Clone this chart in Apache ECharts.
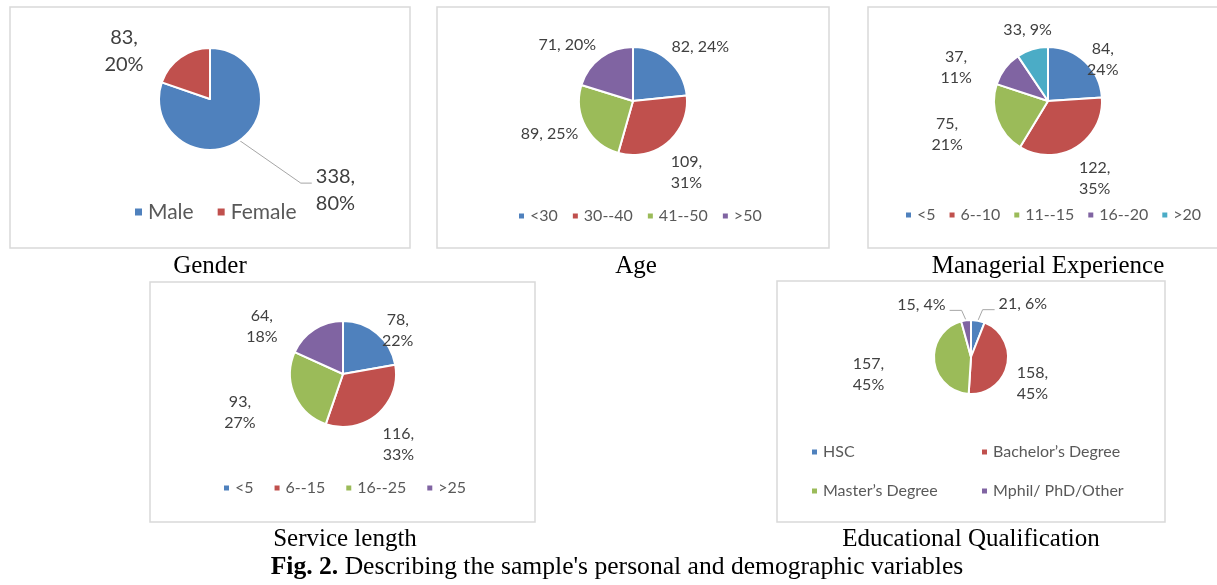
<!DOCTYPE html>
<html><head><meta charset="utf-8">
<script src="https://cdn.jsdelivr.net/npm/echarts@6/dist/echarts.min.js"></script>
<style>html,body{margin:0;padding:0;background:#fff}#c{width:1217px;height:585px}</style>
</head><body><div id="c"></div>
<script>
// ---- data ----
const palette = ['#4F81BD', '#C0504D', '#9BBB59', '#8064A2', '#4BACC6'];

const genderCats = ['Male', 'Female'];
const genderVals = [338, 83];
const genderPct = [80, 20];

const ageCats = ['<30', '30--40', '41--50', '>50'];
const ageVals = [82, 109, 89, 71];
const agePct = [24, 31, 25, 20];

const mgrCats = ['<5', '6--10', '11--15', '16--20', '>20'];
const mgrVals = [84, 122, 75, 37, 33];
const mgrPct = [24, 35, 21, 11, 9];

const svcCats = ['<5', '6--15', '16--25', '>25'];
const svcVals = [78, 116, 93, 64];
const svcPct = [22, 33, 27, 18];

const eduCats = ['HSC', 'Bachelor’s Degree', 'Master’s Degree', 'Mphil/ PhD/Other'];
const eduVals = [21, 158, 157, 15];
const eduPct = [6, 45, 45, 4];

const captionTexts = ['Gender', 'Age', 'Managerial Experience', 'Service length', 'Educational Qualification'];
const figCaptionBold = 'Fig. 2.';
const figCaptionText = ' Describing the sample\'s personal and demographic variables';

// ---- layout / style (not data) ----
const SANS = 'Lato';
const SERIF = '"Liberation Serif", "Times New Roman", serif';
const charts = [
  { cats: genderCats, vals: genderVals, pct: genderPct, center: [210, 99], r: 51, font: 20, lh: 27,
    wrap: [1, 1], gap: 6, nudge: [[73, 17], [-33.5, 26]], leader: [1, 0], lineOff: -6.5, hseg: 11,
    box: [10, 7, 410, 248], caption: [210, 266.5],
    legends: [{ names: genderCats, left: 133, top: 200, gap: 22, font: 21, lh: 24, icon: 9, orient: 'horizontal' }] },
  { cats: ageCats, vals: ageVals, pct: agePct, center: [633, 101], r: 54, font: 16, lh: 21,
    wrap: [0, 1, 0, 0], gap: 6, nudge: [[9, 11], [-2, 5], [-4, -10], [-15, 13]], leader: [0, 0, 0, 0],
    box: [437, 7, 829, 248], caption: [636, 266.5],
    legends: [{ names: ageCats, left: 517, top: 205.5, gap: 13, font: 16, lh: 21, icon: 7, orient: 'horizontal' }] },
  { cats: mgrCats, vals: mgrVals, pct: mgrPct, center: [1048, 101], r: 54, font: 16, lh: 21,
    wrap: [1, 1, 1, 1, 0], gap: 6, nudge: [[-4, 21], [2, 4], [-24, 4.5], [-24, 18], [2, 3]], leader: [0, 0, 0, 0, 0],
    box: [868, 7, 1225, 248], caption: [1048, 266.5],
    legends: [{ names: mgrCats, left: 904, top: 204.5, gap: 12, font: 16, lh: 21, icon: 7, orient: 'horizontal' }] },
  { cats: svcCats, vals: svcVals, pct: svcPct, center: [343, 374], r: 53, font: 16, lh: 21,
    wrap: [1, 1, 1, 1], gap: 6, nudge: [[0, 22], [0, 6], [-28, 6], [-35, 24]], leader: [0, 0, 0, 0],
    box: [150, 282, 535, 522], caption: [345, 539.5],
    legends: [{ names: svcCats, left: 222, top: 477.5, gap: 19, font: 16, lh: 21, icon: 7, orient: 'horizontal' }] },
  { cats: eduCats, vals: eduVals, pct: eduPct, center: [971, 357], r: 37, font: 16, lh: 21,
    wrap: [0, 1, 1, 0], gap: 6, nudge: [[41, 4], [0, 13], [-42, 11], [-42, 4]], leader: [1, 0, 0, 1], lineOff: 5.5, hseg: 12,
    box: [777, 281, 1165, 522], caption: [971, 539.5],
    legends: [
      { names: [eduCats[0], eduCats[2]], left: 810, top: 441.5, gap: 18, font: 16, lh: 21, icon: 7, orient: 'vertical' },
      { names: [eduCats[1], eduCats[3]], left: 980, top: 441.5, gap: 18, font: 16, lh: 21, icon: 7, orient: 'vertical' }
    ] }
];

function makeLabelLayout(cfg) {
  return function (p) {
    const pts = p.labelLinePoints;
    if (!pts || pts.length < 2) return {};
    const i = p.dataIndex;
    const x1 = pts[0][0], y1 = pts[0][1];
    let dx = pts[1][0] - x1, dy = pts[1][1] - y1;
    const len = Math.hypot(dx, dy) || 1; dx /= len; dy /= len;
    const w = p.labelRect.width, h = p.labelRect.height;
    const d = cfg.gap + Math.abs(dx) * w / 2 + Math.abs(dy) * h / 2;
    const n = cfg.nudge[i];
    const cx = x1 + dx * d + n[0], cy = y1 + dy * d + n[1];
    const out = { x: cx, y: cy, align: 'center', verticalAlign: 'middle' };
    if (cfg.leader[i]) {
      const side = cx > x1 ? 1 : -1;
      const ex = cx - side * (w / 2 + 4), ey = cy + cfg.lineOff;
      out.labelLinePoints = [[x1, y1], [ex - side * cfg.hseg, ey], [ex, ey]];
    }
    return out;
  };
}

const series = charts.map(cfg => ({
  type: 'pie',
  center: cfg.center,
  radius: cfg.r,
  startAngle: 90,
  clockwise: true,
  avoidLabelOverlap: false,
  animation: false,
  emphasis: { disabled: true },
  itemStyle: { borderColor: '#fff', borderWidth: 2 },
  label: {
    show: true, position: 'outside', alignTo: 'none',
    fontFamily: SANS, fontSize: cfg.font, lineHeight: cfg.lh, color: '#404040',
    formatter: p => cfg.vals[p.dataIndex] + ',' + (cfg.wrap[p.dataIndex] ? '\n' : ' ') + cfg.pct[p.dataIndex] + '%'
  },
  labelLine: { show: true, length: 10, length2: 0, lineStyle: { color: '#A6A6A6', width: 1 } },
  labelLayout: makeLabelLayout(cfg),
  data: cfg.cats.map((name, i) => ({
    name: name,
    value: cfg.vals[i],
    itemStyle: { color: palette[i] },
    labelLine: { lineStyle: { opacity: cfg.leader[i] ? 1 : 0 } }
  }))
}));

const legends = [];
charts.forEach(cfg => cfg.legends.forEach(L => legends.push({
  data: L.names, left: L.left, top: L.top, width: 600, orient: L.orient, itemGap: L.gap,
  itemWidth: L.icon, itemHeight: L.icon, icon: 'rect', padding: 0, selectedMode: false,
  textStyle: { fontFamily: SANS, fontSize: L.font, lineHeight: L.lh, color: '#595959' }
})));

const graphic = [];
charts.forEach((cfg, k) => {
  const b = cfg.box;
  graphic.push({ type: 'rect', silent: true, z: -10,
    shape: { x: b[0], y: b[1], width: b[2] - b[0], height: b[3] - b[1] },
    style: { fill: 'none', stroke: '#D9D9D9', lineWidth: 1.5 } });
  graphic.push({ type: 'text', silent: true, x: cfg.caption[0], y: cfg.caption[1],
    style: { text: captionTexts[k], fontFamily: SERIF, fontSize: 25, fill: '#000',
      align: 'center', verticalAlign: 'middle', textAlign: 'center', textVerticalAlign: 'middle' } });
});
graphic.push({ type: 'text', silent: true, x: 617, y: 567,
  style: { text: '{b|' + figCaptionBold + '}{n|' + figCaptionText + '}',
    rich: { b: { fontFamily: SERIF, fontSize: 25.6, fontWeight: 'bold', fill: '#000', color: '#000' },
            n: { fontFamily: SERIF, fontSize: 25.6, fill: '#000', color: '#000' } },
    align: 'center', verticalAlign: 'middle', textAlign: 'center', textVerticalAlign: 'middle' } });

const chart = echarts.init(document.getElementById('c'));
chart.setOption({
  animation: false,
  backgroundColor: '#fff',
  color: palette,
  legend: legends,
  series: series,
  graphic: graphic
});
</script></body></html>
